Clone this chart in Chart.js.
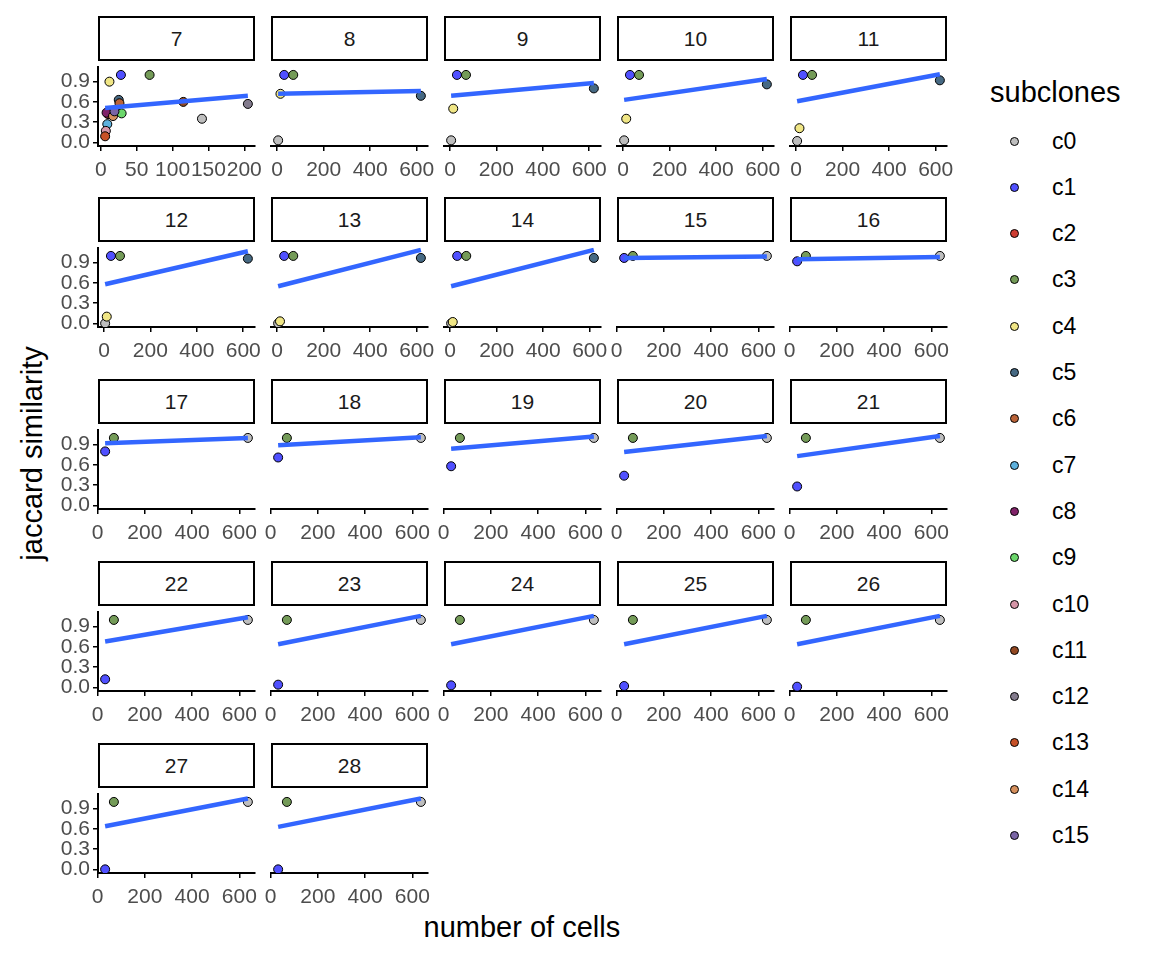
<!DOCTYPE html>
<html>
<head>
<meta charset="utf-8">
<script src="https://cdn.jsdelivr.net/npm/chart.js@4.4.0/dist/chart.umd.min.js"></script>
<style>
  body { margin: 0; background: #fff; width: 1152px; height: 960px; position: relative; overflow: hidden;
         font-family: "Liberation Sans", Arial, sans-serif; }
  canvas { position: absolute; }
  .strip { position: absolute; box-sizing: border-box; border: 2px solid #000; background: #fff;
           display: flex; align-items: center; justify-content: center; font-size: 21px; color: #1a1a1a; }
  .title { position: absolute; font-size: 29px; line-height: 29px; color: #000; white-space: nowrap; }
  .key { position: absolute; font-size: 23px; line-height: 23px; color: #000; }
  .dot { position: absolute; width: 9px; height: 9px; box-sizing: border-box; border: 1px solid #000; border-radius: 50%; }
</style>
</head>
<body>
<script>
const panelIds = [7, 8, 9, 10, 11, 12, 13, 14, 15, 16, 17, 18, 19, 20, 21, 22, 23, 24, 25, 26, 27, 28];
const subclones = ['c0','c1','c2','c3','c4','c5','c6','c7','c8','c9','c10','c11','c12','c13','c14','c15'];
const subcloneColors = ['#BEBEBE','#5050FF','#CE3D32','#749B58','#F0E685','#466983','#BA6338','#5DB1DD',
                        '#802268','#6BD76B','#D595A7','#924822','#837B8D','#C75127','#D58F5C','#7A65A5'];

// panel 7 has every subclone (same order as subclones)
const panel7Cells   = [141, 28, 10, 68, 12, 25, 26, 9, 8, 29, 7, 115, 205, 6, 17, 19];
const panel7Jaccard = [0.35, 1.0, 0.42, 1.0, 0.9, 0.63, 0.58, 0.27, 0.44, 0.43, 0.17, 0.6, 0.57, 0.09, 0.39, 0.46];

// panels 8..28, null = subclone not present
const c0Cells   = [4, 5, 5, 5, 5, 4, 4, 636, 636, 636, 636, 636, 636, 636, 636, 636, 636, 636, 636, 636, 636];
const c0Jaccard = [0.03, 0.03, 0.03, 0.02, 0.0, 0.0, 0.0, 1, 1, 1, 1, 1, 1, 1, 1, 1, 1, 1, 1, 1, 1];
const c1Cells   = [30, 30, 30, 30, 30, 30, 30, 32, 32, 32, 32, 32, 32, 32, 32, 32, 32, 32, 32, 32, 32];
const c1Jaccard = [1, 1, 1, 1, 1, 1, 1, 0.97, 0.92, 0.8, 0.71, 0.58, 0.44, 0.28, 0.12, 0.04, 0.03, 0.02, 0.01, 0.0, 0.0];
const c3Cells   = [69, 69, 69, 69, 69, 69, 69, 69, 69, 69, 69, 69, 69, 69, 69, 69, 69, 69, 69, 69, 69];
const c3Jaccard = [1, 1, 1, 1, 1, 1, 1, 1, 1, 1, 1, 1, 1, 1, 1, 1, 1, 1, 1, 1, 1];
const c4Cells   = [14, 14, 14, 15, 12, 12, 11, null, null, null, null, null, null, null, null, null, null, null, null, null, null];
const c4Jaccard = [0.72, 0.5, 0.35, 0.21, 0.1, 0.03, 0.02, null, null, null, null, null, null, null, null, null, null, null, null, null, null];
const c5Cells   = [618, 620, 618, 618, 620, 618, 618, null, null, null, null, null, null, null, null, null, null, null, null, null, null];
const c5Jaccard = [0.69, 0.8, 0.86, 0.92, 0.96, 0.97, 0.97, null, null, null, null, null, null, null, null, null, null, null, null, null, null];

// linear trend, value at the smallest and largest number of cells (panels 7..28)
const fitStart = [0.51, 0.72, 0.69, 0.63, 0.61, 0.58, 0.55, 0.55, 0.97, 0.95, 0.92, 0.89, 0.84, 0.79, 0.73, 0.68, 0.64, 0.64, 0.64, 0.64, 0.64, 0.63];
const fitEnd   = [0.69, 0.76, 0.88, 0.94, 1.01, 1.07, 1.09, 1.09, 0.99, 0.985, 1.0, 1.01, 1.02, 1.03, 1.03, 1.04, 1.06, 1.06, 1.06, 1.06, 1.05, 1.05];

const xTicksSmall = [0, 50, 100, 150, 200];
const xTicksWide = [0, 200, 400, 600];
const yTicks = [0, 0.3, 0.6, 0.9];

// layout
const colLeft = [98, 271, 444, 617, 790];
const PW = 157, PH = 85, YW = 46, XH = 36, RP = 22, STRIP = 45;
const FONT = '"Liberation Sans", Arial, sans-serif';

function panelPoints(k) {
  const pts = [];
  if (k === 0) {
    subclones.forEach((c, i) => pts.push({ x: panel7Cells[i], y: panel7Jaccard[i], c: i }));
    return pts;
  }
  const j = k - 1;
  const sets = [[0, c0Cells, c0Jaccard], [1, c1Cells, c1Jaccard], [3, c3Cells, c3Jaccard],
                [4, c4Cells, c4Jaccard], [5, c5Cells, c5Jaccard]];
  sets.forEach(([ci, xs, ys]) => {
    if (xs[j] != null) pts.push({ x: xs[j], y: ys[j], c: ci });
  });
  return pts;
}

function makePanel(k) {
  const col = k % 5, row = Math.floor(k / 5);
  const left = colLeft[col];
  const top = Math.round(60.7 + 181.75 * row);
  const isLeft = col === 0;

  const strip = document.createElement('div');
  strip.className = 'strip';
  strip.style.left = left + 'px';
  strip.style.top = (top - STRIP) + 'px';
  strip.style.width = PW + 'px';
  strip.style.height = STRIP + 'px';
  strip.textContent = panelIds[k];
  document.body.appendChild(strip);

  const pts = panelPoints(k);
  const xs = pts.map(p => p.x);
  const lo = Math.min(...xs), hi = Math.max(...xs);
  const pad = (hi - lo) * 0.05;
  const ticks = k === 0 ? xTicksSmall : xTicksWide;

  const cv = document.createElement('canvas');
  cv.width = YW + PW + RP;
  cv.height = PH + XH;
  cv.style.left = (left - YW) + 'px';
  cv.style.top = top + 'px';
  document.body.appendChild(cv);

  new Chart(cv, {
    type: 'scatter',
    data: {
      datasets: [
        {
          type: 'line',
          data: [{ x: lo, y: fitStart[k] }, { x: hi, y: fitEnd[k] }],
          borderColor: '#3366FF',
          borderWidth: 4.5,
          pointRadius: 0,
          tension: 0,
          order: 0
        },
        {
          type: 'scatter',
          data: pts.map(p => ({ x: p.x, y: p.y })),
          backgroundColor: pts.map(p => subcloneColors[p.c]),
          borderColor: '#000',
          borderWidth: 1,
          pointRadius: 4.5,
          order: 1
        }
      ]
    },
    options: {
      responsive: false,
      animation: false,
      events: [],
      layout: { padding: { left: isLeft ? 0 : YW, right: RP, top: 0, bottom: 0 } },
      plugins: { legend: { display: false }, tooltip: { enabled: false } },
      scales: {
        x: {
          type: 'linear',
          min: lo - pad,
          max: hi + pad,
          afterBuildTicks: s => { s.ticks = ticks.map(v => ({ value: v })); },
          afterFit: s => { s.height = XH; s.paddingLeft = 0; s.paddingRight = 0; },
          grid: { drawOnChartArea: false, drawTicks: true, tickLength: 5, color: '#000', lineWidth: 1.5 },
          border: { display: true, color: '#000', width: 2 },
          ticks: { autoSkip: false, maxRotation: 0, padding: 7, color: '#4D4D4D',
                   font: { size: 21, family: FONT }, callback: v => String(v) }
        },
        y: {
          type: 'linear',
          display: isLeft,
          min: -0.054,
          max: 1.125,
          afterBuildTicks: s => { s.ticks = yTicks.map(v => ({ value: v })); },
          afterFit: s => {
            s.width = isLeft ? YW : 0;
            s.paddingTop = 0; s.paddingBottom = 0;
          },
          grid: { drawOnChartArea: false, drawTicks: true, tickLength: 5, color: '#000', lineWidth: 1.5 },
          border: { display: true, color: '#000', width: 2 },
          ticks: { autoSkip: false, padding: 3, color: '#4D4D4D', font: { size: 21, family: FONT },
                   callback: v => Number(v).toFixed(1) }
        }
      }
    }
  });
}

panelIds.forEach((id, k) => makePanel(k));

// axis titles
const xt = document.createElement('div');
xt.className = 'title';
xt.textContent = 'number of cells';
document.body.appendChild(xt);
xt.style.left = (522 - xt.offsetWidth / 2) + 'px';
xt.style.top = '913px';

const yt = document.createElement('div');
yt.className = 'title';
yt.textContent = 'jaccard similarity';
document.body.appendChild(yt);
yt.style.left = (32 - yt.offsetWidth / 2) + 'px';
yt.style.top = (453 - 14.5) + 'px';
yt.style.transform = 'rotate(-90deg)';

// legend
const lt = document.createElement('div');
lt.className = 'title';
lt.textContent = 'subclones';
lt.style.left = '990px';
lt.style.top = '78px';
document.body.appendChild(lt);

subclones.forEach((c, i) => {
  const cy = 141 + 46.3 * i;
  const d = document.createElement('div');
  d.className = 'dot';
  d.style.background = subcloneColors[i];
  d.style.left = (1014 - 4.5) + 'px';
  d.style.top = (cy - 4.5) + 'px';
  document.body.appendChild(d);
  const t = document.createElement('div');
  t.className = 'key';
  t.textContent = c;
  t.style.left = '1052px';
  t.style.top = (cy - 11.5) + 'px';
  document.body.appendChild(t);
});
</script>
</body>
</html>
